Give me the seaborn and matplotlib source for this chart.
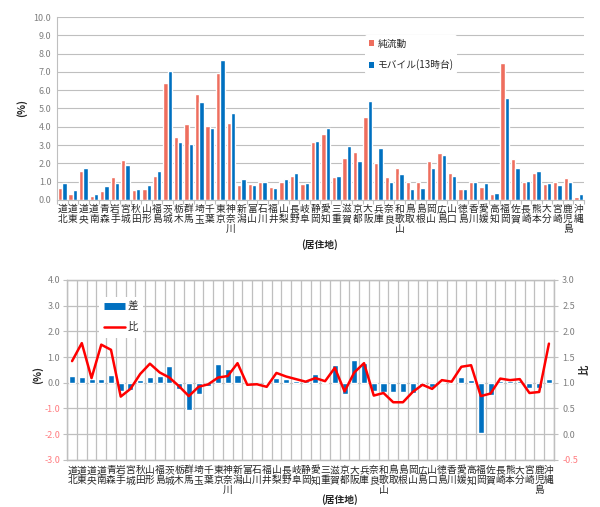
import numpy as np
import pandas as pd
import matplotlib
matplotlib.use("Agg")
import matplotlib.pyplot as plt
import seaborn as sns
from matplotlib.patches import Patch
from matplotlib.lines import Line2D

# 居住地（50区分）
regions = ["道北", "道東", "道央", "道南", "青森", "岩手", "宮城", "秋田", "山形", "福島",
           "茨城", "栃木", "群馬", "埼玉", "千葉", "東京", "神奈川", "新潟", "富山", "石川",
           "福井", "山梨", "長野", "岐阜", "静岡", "愛知", "三重", "滋賀", "京都", "大阪",
           "兵庫", "奈良", "和歌山", "鳥取", "島根", "岡山", "広島", "山口", "徳島", "香川",
           "愛媛", "高知", "福岡", "佐賀", "長崎", "熊本", "大分", "宮崎", "鹿児島", "沖縄"]

# 構成比 (%)
junryudo = [0.64, 0.30, 1.58, 0.19, 0.47, 1.24, 2.20, 0.52, 0.60, 1.30,
            6.37, 3.44, 4.13, 5.78, 4.04, 6.97, 4.20, 0.82, 0.85, 0.99,
            0.72, 0.95, 1.30, 0.85, 3.16, 3.63, 1.24, 2.30, 2.60, 4.53,
            2.04, 1.26, 1.76, 0.97, 1.00, 2.15, 2.57, 1.49, 0.58, 0.98,
            0.70, 0.29, 7.50, 2.24, 0.96, 1.49, 0.87, 1.00, 1.19, 0.17]
mobile = [0.91, 0.53, 1.72, 0.33, 0.77, 0.90, 1.93, 0.61, 0.82, 1.56,
          7.03, 3.19, 3.06, 5.34, 3.92, 7.68, 4.74, 1.13, 0.82, 0.96,
          0.66, 1.13, 1.45, 0.91, 3.21, 3.95, 1.28, 2.97, 2.15, 5.42,
          2.82, 0.95, 1.40, 0.60, 0.62, 1.76, 2.46, 1.31, 0.61, 1.00,
          0.92, 0.39, 5.56, 1.76, 1.04, 1.57, 0.93, 0.80, 0.97, 0.30]

# 差 (モバイル − 純流動, %) と 比 (モバイル / 純流動)
diff = [0.27, 0.23, 0.14, 0.14, 0.30, -0.34, -0.27, 0.09, 0.22, 0.26,
        0.66, -0.25, -1.07, -0.44, -0.12, 0.71, 0.54, 0.31, -0.03, -0.03,
        -0.06, 0.18, 0.15, 0.06, 0.05, 0.32, 0.04, 0.67, -0.45, 0.89,
        0.78, -0.31, -0.36, -0.37, -0.38, -0.39, -0.11, -0.18, 0.03, 0.02,
        0.22, 0.10, -1.94, -0.48, 0.08, 0.08, 0.06, -0.20, -0.22, 0.13]
ratio = [1.42, 1.77, 1.09, 1.74, 1.64, 0.73, 0.88, 1.17, 1.37, 1.20,
         1.10, 0.93, 0.74, 0.92, 0.97, 1.10, 1.13, 1.38, 0.96, 0.97,
         0.92, 1.19, 1.12, 1.07, 1.02, 1.09, 1.03, 1.29, 0.83, 1.20,
         1.38, 0.75, 0.80, 0.62, 0.62, 0.82, 0.96, 0.88, 1.05, 1.02,
         1.31, 1.34, 0.74, 0.79, 1.08, 1.05, 1.07, 0.80, 0.82, 1.76]

left_ticks = [4.0, 3.0, 2.0, 1.0, 0.0, -1.0, -2.0, -3.0]
right_ticks = [3.0, 2.5, 2.0, 1.5, 1.0, 0.5, 0.0, -0.5]
top_ticks = [0.0, 1.0, 2.0, 3.0, 4.0, 5.0, 6.0, 7.0, 8.0, 9.0, 10.0]

sns.set_theme(style="white")
plt.rcParams['font.family'] = ['Noto Sans CJK JP', 'DejaVu Sans']

RED = "#EE6E5E"
BLUE = "#0070C0"
LINE_RED = "#FF0000"
GRID = "#BFBFBF"
TXT = "#7F7F7F"
NEG = "#FF7C80"
LAB = "#262626"

stacked = ["\n".join(r) for r in regions]
n = len(regions)

fig = plt.figure(figsize=(6, 5.07), dpi=100)

# ---------- 上段: 構成比の比較 ----------
ax1 = fig.add_axes([0.095, 0.606, 0.878, 0.360])
s1, s2 = "純流動", "モバイル(13時台)"
long = pd.DataFrame({
    "居住地": regions * 2,
    "構成比": junryudo + mobile,
    "系列": [s1] * n + [s2] * n,
})
sns.barplot(data=long, x="居住地", y="構成比", hue="系列", order=regions,
            hue_order=[s1, s2], palette=[RED, BLUE], width=0.82, gap=0,
            saturation=1, legend=False, ax=ax1)
ax1.set_xlim(-0.5, n - 0.5)
ax1.set_ylim(0, 10)
ax1.set_yticks(top_ticks)
ax1.set_yticklabels([f"{v:.1f}" for v in top_ticks], fontsize=6.5, color=TXT)
ax1.yaxis.grid(True, color=GRID, lw=0.8)
ax1.set_axisbelow(True)
ax1.set_xticks(range(n))
ax1.set_xticklabels(stacked, fontsize=7, linespacing=1.0, va="top", color=LAB)
ax1.set_xticks(np.arange(-0.5, n, 1), minor=True)
ax1.tick_params(axis="x", which="major", length=0, pad=3)
ax1.tick_params(axis="x", which="minor", bottom=True, length=3, color=GRID, width=0.8)
ax1.tick_params(axis="y", length=0, pad=4)
ax1.set_xlabel("")
ax1.set_ylabel("")
for side in ["top", "right"]:
    ax1.spines[side].set_visible(False)
for side in ["left", "bottom"]:
    ax1.spines[side].set_color(GRID)
    ax1.spines[side].set_linewidth(0.8)

h1 = [Patch(facecolor=RED, edgecolor="none", label=s1),
      Patch(facecolor=BLUE, edgecolor="none", label=s2)]
leg1 = ax1.legend(handles=h1, loc="upper left", bbox_to_anchor=(0.575, 0.93),
                  frameon=True, facecolor="white", edgecolor="none", framealpha=1,
                  fontsize=7, handlelength=0.6, handleheight=0.6, handletextpad=0.3,
                  labelspacing=1.1, borderpad=0.4)
for t in leg1.get_texts():
    t.set_color(LAB)

fig.text(0.037, 1 - 108 / 507, "(%)", rotation=90, fontsize=7.5, weight="bold",
         color=LAB, ha="center", va="center")
fig.text(320 / 600, 1 - 245 / 507, "(居住地)", fontsize=7, weight="bold",
         color=LAB, ha="center", va="center")

# ---------- 下段: 差と比 ----------
ax2 = fig.add_axes([0.112, 0.093, 0.811, 0.355])
df2 = pd.DataFrame({"居住地": regions, "差": diff, "比": ratio})
sns.barplot(data=df2, x="居住地", y="差", order=regions, color=BLUE, width=0.62,
            saturation=1, ax=ax2)
ax2.set_xlim(-0.5, n - 0.5)
ax2.set_ylim(-3, 4)
ax2.set_yticks(left_ticks)
ax2.set_yticklabels([f"{v:.1f}" for v in left_ticks], fontsize=6.5)
for lab, v in zip(ax2.get_yticklabels(), left_ticks):
    lab.set_color(NEG if v < 0 else TXT)
ax2.set_xticks(range(n))
ax2.set_xticklabels(stacked, fontsize=7, linespacing=1.0, va="top", color=LAB)
ax2.set_xticks(np.arange(-0.5, n, 1), minor=True)
ax2.tick_params(axis="x", which="both", length=0, pad=4)
ax2.tick_params(axis="y", left=True, length=3, color=GRID, width=0.8, pad=2)
ax2.grid(False)
ax2.xaxis.grid(True, which="minor", color=GRID, lw=0.9)
ax2.yaxis.grid(True, which="major", color=GRID, lw=0.9)
ax2.set_axisbelow(True)
ax2.set_xlabel("")
ax2.set_ylabel("")
for side in ax2.spines:
    ax2.spines[side].set_color(GRID)
    ax2.spines[side].set_linewidth(0.9)

ax3 = ax2.twinx()
sns.lineplot(x=np.arange(n), y=df2["比"], color=LINE_RED, lw=1.8, ax=ax3)
ax3.set_ylim(-0.5, 3.0)
ax3.set_yticks(right_ticks)
ax3.set_yticklabels([f"{v:.1f}" for v in right_ticks], fontsize=6.5)
for lab, v in zip(ax3.get_yticklabels(), right_ticks):
    lab.set_color(NEG if v < 0 else TXT)
ax3.tick_params(axis="y", right=True, length=3, color=GRID, width=0.8, pad=3)
ax3.set_xlim(-0.5, n - 0.5)
ax3.set_ylabel("")
ax3.grid(False)
for side in ax3.spines:
    ax3.spines[side].set_color(GRID)
    ax3.spines[side].set_linewidth(0.9)

h2 = [Line2D([0], [0], color=BLUE, lw=5, solid_capstyle="butt", label="差"),
      Line2D([0], [0], color=LINE_RED, lw=1.8, label="比")]
leg2 = ax3.legend(handles=h2, loc="upper left", bbox_to_anchor=(0.055, 0.935),
                  frameon=True, facecolor="white", edgecolor="none", framealpha=1,
                  fontsize=7.5, handlelength=2.0, handletextpad=0.2,
                  labelspacing=1.0, borderpad=0.5)
for t in leg2.get_texts():
    t.set_color(LAB)

fig.text(0.063, 1 - 375 / 507, "(%)", rotation=90, fontsize=7.5, weight="bold",
         color=LAB, ha="center", va="center")
fig.text(0.975, 1 - 370 / 507, "比", rotation=90, fontsize=7.5, weight="bold",
         color=LAB, ha="center", va="center")
fig.text(340 / 600, 1 - 500 / 507, "(居住地)", fontsize=7, weight="bold",
         color=LAB, ha="center", va="center")

fig.savefig("out.png", dpi=100)
